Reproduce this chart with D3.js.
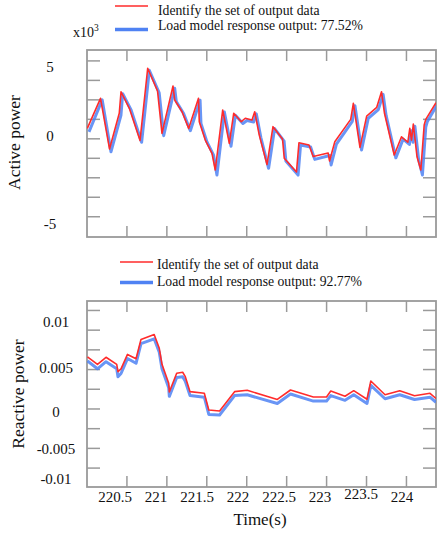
<!DOCTYPE html>
<html>
<head>
<meta charset="utf-8">
<script src="https://cdn.jsdelivr.net/npm/d3@7"></script>
<style>
  body { margin: 0; background: #fff; }
  svg { font-family: "Liberation Serif", "Times New Roman", serif; }
</style>
</head>
<body>
<div id="chart"></div>
<script>
// active power (x10^3), identified data vs model response
const timeP = [220.004, 220.169, 220.282, 220.404, 220.426, 220.530, 220.664, 220.760, 220.883, 220.939,
  221.077, 221.098, 221.190, 221.273, 221.396, 221.406, 221.481, 221.565, 221.606, 221.699,
  221.782, 221.837, 221.932, 221.982, 222.066, 222.100, 222.157, 222.254, 222.329, 222.448,
  222.470, 222.623, 222.654, 222.780, 222.832, 223.020, 223.037, 223.103, 223.302, 223.335,
  223.418, 223.502, 223.628, 223.688, 223.725, 223.847, 223.938, 224.017, 224.042, 224.063,
  224.086, 224.132, 224.180, 224.222, 224.242, 224.370];
const activeId = [0.67, 2.60, -0.65, 1.64, 3.02, 1.96, -0.11, 4.53, 3.07, 0.35,
  3.39, 2.49, 1.74, 0.67, 2.60, 1.10, -0.08, -0.93, -2.00, 1.85,
  -0.29, 1.64, 1.10, 1.32, 1.21, 1.74, 0.24, -1.65, 0.78, -0.01,
  -1.25, -2.13, -0.25, -0.40, -1.14, -0.91, -1.42, -0.19, 1.25, 2.28,
  -0.55, 1.46, 2.02, 3.02, 1.64, -1.04, 0.13, -0.22, 0.67, -0.08,
  0.95, -1.15, -2.00, 0.89, 1.25, 2.32];
const timePModel = [220.025, 220.190, 220.300, 220.425, 220.447, 220.552, 220.684, 220.780, 220.904, 220.960,
  221.098, 221.118, 221.210, 221.294, 221.416, 221.427, 221.502, 221.585, 221.627, 221.720,
  221.803, 221.858, 221.952, 222.003, 222.087, 222.120, 222.177, 222.274, 222.349, 222.468,
  222.490, 222.643, 222.674, 222.800, 222.852, 223.040, 223.057, 223.123, 223.322, 223.355,
  223.438, 223.522, 223.648, 223.708, 223.745, 223.867, 223.958, 224.037, 224.062, 224.083,
  224.106, 224.152, 224.200, 224.242, 224.262, 224.380];
const activeModel = [0.45, 2.50, -0.83, 1.50, 2.90, 1.85, -0.22, 4.40, 2.95, 0.20,
  3.25, 2.40, 1.62, 0.52, 2.48, 0.98, -0.20, -1.05, -2.32, 1.72,
  -0.48, 1.52, 0.98, 1.18, 1.08, 1.60, 0.08, -1.89, 0.66, -0.15,
  -1.42, -2.33, -0.40, -0.52, -1.32, -1.07, -1.68, -0.34, 1.12, 2.12,
  -0.72, 1.32, 1.88, 2.85, 1.50, -1.22, -0.02, -0.36, 0.52, -0.22,
  0.80, -1.32, -2.32, 0.75, 1.12, 2.15];

// reactive power
const timeQ = [220.006, 220.131, 220.238, 220.372, 220.388, 220.426, 220.507, 220.614, 220.676, 220.841,
  220.905, 220.939, 221.023, 221.031, 221.123, 221.198, 221.231, 221.290, 221.469, 221.525,
  221.660, 221.848, 222.006, 222.383, 222.548, 222.834, 222.999, 223.052, 223.231, 223.340,
  223.506, 223.554, 223.732, 223.916, 224.101, 224.295, 224.370];
const reactiveId = [0.0066, 0.00565, 0.00656, 0.00565, 0.00473, 0.00508, 0.00692, 0.00637, 0.00882, 0.00945,
  0.0077, 0.00567, 0.00326, 0.00216, 0.00453, 0.00466, 0.0041, 0.0022, 0.00199, -0.00013,
  -0.00025, 0.0022, 0.00237, 0.00121, 0.00241, 0.00152, 0.00152, 0.00228, 0.00161, 0.00232,
  0.00124, 0.00355, 0.00181, 0.00232, 0.00168, 0.00199, 0.00133];
const reactiveModel = [0.0061, 0.0051, 0.0060, 0.0051, 0.0041, 0.0045, 0.0064, 0.0058, 0.0083, 0.0089,
  0.0072, 0.0051, 0.0027, 0.0016, 0.0040, 0.0041, 0.0035, 0.0017, 0.0015, -0.0007,
  -0.00076, 0.0017, 0.0018, 0.0007, 0.0019, 0.0010, 0.0010, 0.0017, 0.0011, 0.0018,
  0.0007, 0.0030, 0.0013, 0.0018, 0.0012, 0.0015, 0.00085];

const timeTicks = [220.5, 221, 221.5, 222, 222.5, 223, 223.5, 224];
const activeTicks = [-5, 0, 5];
const reactiveTicks = [-0.01, -0.005, 0, 0.005, 0.01];
const legendNames = ["Identify the set of output data", "Load model response output: "];
const fitScores = ["77.52%", "92.77%"];

const W = 438, H = 536;
const left = 87, right = 436;
const red = "#ff2b2b", blue = "#4f82f3", frameColor = "#9a9a9a";

const svg = d3.select("#chart").append("svg").attr("width", W).attr("height", H);
svg.append("rect").attr("width", W).attr("height", H).attr("fill", "#fff");

const x = d3.scaleLinear().domain([220, 224.37]).range([left, right]);
// the tick labels in the figure sit a little left of their ticks
const xLabel = d3.scaleLinear().domain([220.5, 224]).range([115, 402]);

function drawPanel(p) {
  const g = svg.append("g");
  const y = p.y;

  g.append("clipPath").attr("id", p.id)
    .append("rect")
    .attr("x", left).attr("y", p.top)
    .attr("width", right - left).attr("height", p.bottom - p.top);

  // minor ticks, pointing inward from every side
  const yt = g.append("g").attr("stroke", frameColor).attr("stroke-width", 1.5);
  p.tickVals.forEach((v) => {
    yt.append("line").attr("x1", left).attr("x2", left + 13).attr("y1", y(v)).attr("y2", y(v));
    yt.append("line").attr("x1", right - 13).attr("x2", right).attr("y1", y(v)).attr("y2", y(v));
  });
  timeTicks.forEach((t) => {
    yt.append("line").attr("x1", x(t)).attr("x2", x(t)).attr("y1", p.top).attr("y2", p.top + 11);
    yt.append("line").attr("x1", x(t)).attr("x2", x(t)).attr("y1", p.bottom - 11).attr("y2", p.bottom);
  });

  g.append("rect")
    .attr("x", left).attr("y", p.top)
    .attr("width", right - left).attr("height", p.bottom - p.top)
    .attr("fill", "none")
    .attr("stroke", frameColor)
    .attr("stroke-width", 1.8);

  const line = d3.line().x((d) => x(d[0])).y((d) => y(d[1]));
  const lines = g.append("g").attr("clip-path", `url(#${p.id})`).attr("fill", "none")
    .attr("stroke-linejoin", "round");

  lines.append("path")
    .attr("d", line(d3.zip(p.modelTime, p.model)))
    .attr("stroke", blue)
    .attr("stroke-opacity", 0.85)
    .attr("stroke-width", 3);

  lines.append("path")
    .attr("d", line(d3.zip(p.idTime, p.id_)))
    .attr("stroke", red)
    .attr("stroke-width", 1.6);

  g.selectAll(".ylab")
    .data(p.labels)
    .enter()
    .append("text")
    .attr("x", p.labelX)
    .attr("y", (d) => p.labelY(d))
    .attr("text-anchor", "middle")
    .attr("font-size", 15)
    .attr("fill", "#111")
    .text((d) => p.fmt(d));

  g.append("text")
    .attr("transform", `translate(${p.titleX},${p.titleY}) rotate(-90)`)
    .attr("text-anchor", "middle")
    .attr("font-size", 17.5)
    .attr("fill", "#111")
    .text(p.title);

  // legend
  const lg = g.append("g").attr("font-size", 13.7).attr("fill", "#111");
  lg.append("line")
    .attr("x1", p.legX).attr("x2", p.legX + 33)
    .attr("y1", p.legY1).attr("y2", p.legY1)
    .attr("stroke", red).attr("stroke-width", 1.6);
  lg.append("text").attr("x", p.legTextX).attr("y", p.legBase1).text(legendNames[0]);
  lg.append("line")
    .attr("x1", p.legX).attr("x2", p.legX + 33)
    .attr("y1", p.legY2).attr("y2", p.legY2)
    .attr("stroke", blue).attr("stroke-width", 3.5);
  lg.append("text").attr("x", p.legTextX).attr("y", p.legBase2).text(legendNames[1] + p.score);
}

drawPanel({
  id: "clip-p",
  top: 50,
  bottom: 237,
  y: d3.scaleLinear().domain([-6.3, 5.7]).range([237, 50]),
  tickVals: d3.range(-5, 5.01, 1.25),
  labels: activeTicks,
  labelY: d3.scaleLinear().domain([-5, 0, 5]).range([229, 141, 72]),
  labelX: 50,
  fmt: (d) => d3.format("d")(d).replace("−", "-"),
  idTime: timeP, id_: activeId, modelTime: timePModel, model: activeModel,
  title: "Active power", titleX: 19.5, titleY: 142.5,
  legX: 115, legY1: 6, legY2: 29.5, legTextX: 158, legBase1: 14.5, legBase2: 30,
  score: fitScores[0],
});

// exponent note above the active power axis
const ex = svg.append("text").attr("x", 73).attr("y", 36.5).attr("font-size", 14).attr("fill", "#111");
ex.append("tspan").text("x10");
ex.append("tspan").attr("font-size", 9.5).attr("dy", -6).text("3");

drawPanel({
  id: "clip-q",
  top: 301,
  bottom: 487,
  y: d3.scaleLinear().domain([-0.0099, 0.0137]).range([487, 301]),
  tickVals: d3.range(-0.0075, 0.01251, 0.0025),
  labels: reactiveTicks,
  labelY: d3.scaleLinear().domain([-0.01, -0.005, 0, 0.005, 0.01]).range([484, 454, 417, 373, 327]),
  labelX: 56,
  fmt: (d) => String(d),
  idTime: timeQ, id_: reactiveId, modelTime: timeQ, model: reactiveModel,
  title: "Reactive power", titleX: 23.5, titleY: 394,
  legX: 120, legY1: 262, legY2: 282.5, legTextX: 157, legBase1: 269, legBase2: 285.5,
  score: fitScores[1],
});

svg.append("g")
  .selectAll("text")
  .data(timeTicks)
  .enter()
  .append("text")
  .attr("x", (d) => xLabel(d))
  .attr("y", (d) => (d === 223.5 ? 499 : 501.5))
  .attr("text-anchor", "middle")
  .attr("font-size", 15)
  .attr("fill", "#111")
  .text((d) => d);

svg.append("text")
  .attr("x", 260)
  .attr("y", 525)
  .attr("text-anchor", "middle")
  .attr("font-size", 17)
  .attr("fill", "#111")
  .text("Time(s)");
</script>
</body>
</html>
